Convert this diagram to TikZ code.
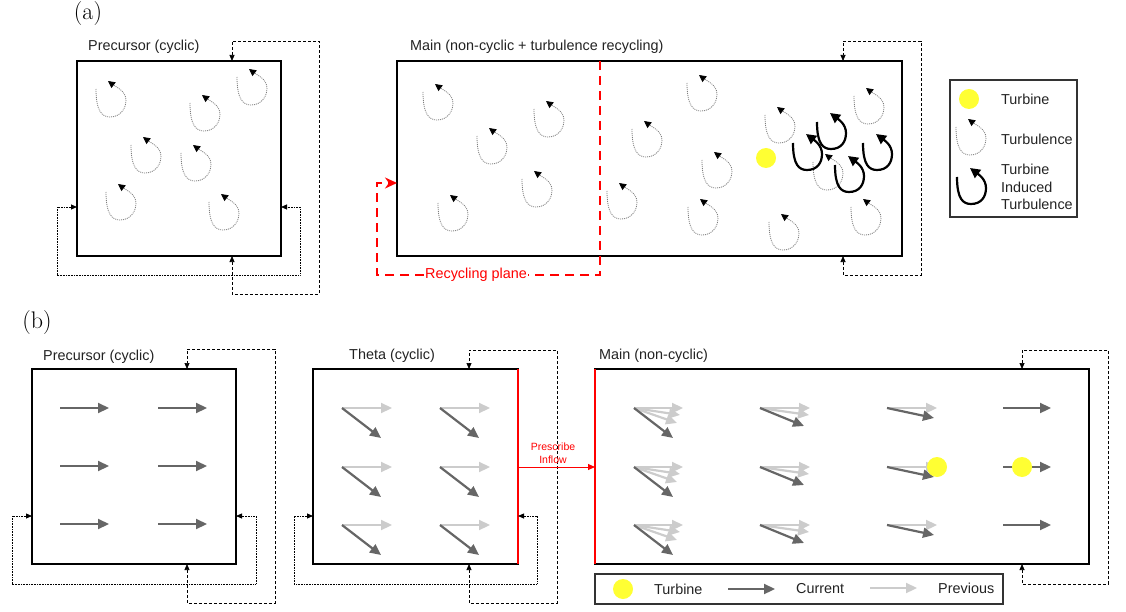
\documentclass[tikz,border=0pt]{standalone}
\usepackage{fontspec}
\newfontfamily\sansf{Liberation Sans}
\usetikzlibrary{arrows.meta,calc}
\definecolor{tyellow}{RGB}{255,255,51}
\definecolor{curc}{RGB}{102,102,102}
\definecolor{prevc}{RGB}{204,204,204}
\definecolor{swirlc}{RGB}{125,125,125}
\definecolor{titlec}{RGB}{34,34,34}
\tikzset{
 box/.style={draw=black, line width=1.1pt, inner sep=0pt, outer sep=0pt},
 lbl/.style={font=\fontsize{14.4}{17.5}\selectfont\sansf, text=titlec, inner sep=0pt, anchor=west},
 dloop/.style={line width=0.7pt, dash pattern=on 3pt off 2pt, {Triangle[length=6pt,width=5pt]}-{Triangle[length=6pt,width=5pt]}},
 ploop/.style={line width=0.8pt, dash pattern=on 0.8pt off 0.8pt, {Triangle[length=6pt,width=5pt]}-{Triangle[length=6pt,width=5pt]}},
 cur/.style={draw=curc, line width=2.2pt, -{Triangle[length=11pt,width=10pt]}},
 prev/.style={draw=prevc, line width=2.2pt, -{Triangle[length=11pt,width=10pt]}},
 turbine/.style={circle, fill=tyellow, minimum size=20pt, inner sep=0pt, draw=none},
 swirl/.pic={\draw[swirlc, line width=0.8pt, dash pattern=on 1pt off 1pt, -{Triangle[length=7pt,width=7pt,color=black]}] (0,0) .. controls (0,22) and (6,28) .. (14,28) .. controls (24,28) and (30,20) .. (30,11) .. controls (30,2) and (20,-2) .. (12,-8);},
 bswirl/.pic={\draw[black, line width=2.2pt, -{Triangle[length=10pt,width=10pt]}] (0,0) .. controls (0,22) and (6,27) .. (14,27) .. controls (24,27) and (29,20) .. (29,11) .. controls (29,2) and (21,-3) .. (13,-9);},
}
\begin{document}
\begin{tikzpicture}[x=1pt,y=-1pt]
\useasboundingbox (0,0) rectangle (1126,612);
% ---------------- (a) ----------------
\node[font=\fontsize{24}{28}\selectfont, inner sep=0pt] (laba) at (88,14) {(a)};
\node[box, minimum width=204pt, minimum height=195pt] (pa) at (179,158.5) {};
\node[lbl] (tpa) at (88,47) {Precursor (cyclic)};
\draw[dloop] (232,0 |- pa.south) -- (232,294) -- (319,294) -- (319,41) -- (232,41) -- (232,0 |- pa.north);
\draw[ploop] (pa.west |- 0,207) -- (57,207) -- (57,275) -- (300,275) -- (300,207) -- (pa.east |- 0,207);
\foreach \p in {(96,89),(190,103),(237,77),(131,145),(181,153),(106,192),(209,202)}
  \pic at \p {swirl};

\node[box, minimum width=505pt, minimum height=195pt] (ma) at (649.5,158.5) {};
\node[lbl] (tma) at (410,47) {Main (non-cyclic + turbulence recycling)};
\draw[dloop] (843,0 |- ma.south) -- (843,275) -- (921,275) -- (921,41) -- (843,41) -- (843,0 |- ma.north);
\foreach \p in {(423,92),(534,109),(477,136),(522,179),(438,203),(632,129),(607,191),(687,83),(765,115),(854,96),(702,160),(813,162),(688,207),(769,222),(851,207)}
  \pic at \p {swirl};
\node[turbine] (ta) at (766,158) {};
\foreach \p in {(793,143),(817,122),(835,165),(863,143)}
  \pic at \p {bswirl};
\draw[red, line width=2.5pt, dash pattern=on 9pt off 6pt, -{Stealth[length=12pt,width=11pt]}] (600,0 |- ma.north) -- (600,275) -- (377,275) -- (377,183) -- (ma.west |- 0,183);
\node[font=\fontsize{14.4}{17.5}\selectfont\sansf, text=red, fill=white, inner sep=1pt] (rp) at (476,275) {Recycling plane};

\node[box, draw=black!80, minimum width=127pt, minimum height=137pt] (lga) at (1013.5,148.5) {};
\node[turbine] (lgt) at (969,99) {};
\node[lbl] (lgt1) at (1001,99) {Turbine};
\pic at (956,127) {swirl};
\node[lbl] (lgt2) at (1001,139) {Turbulence};
\pic at (957,177) {bswirl};
\node[lbl, align=left] (lgt3) at (1001,187) {Turbine\\Induced\\Turbulence};

% ---------------- (b) ----------------
\node[font=\fontsize{24}{28}\selectfont, inner sep=0pt] (labb) at (37,323) {(b)};
% precursor
\node[box, minimum width=204pt, minimum height=195pt] (pb) at (134,466.5) {};
\node[lbl] (tpb) at (43,357) {Precursor (cyclic)};
\draw[dloop] (187,0 |- pb.south) -- (187,603) -- (275,603) -- (275,349) -- (187,349) -- (187,0 |- pb.north);
\draw[ploop] (pb.west |- 0,516) -- (12,516) -- (12,584) -- (256,584) -- (256,516) -- (pb.east |- 0,516);
\foreach \y in {408,466,524} \foreach \x in {60,158} \draw[cur] (\x,\y) -- ++(49,0);
% theta
\node[box, minimum width=205pt, minimum height=195pt] (tb) at (415.5,466.5) {};
\draw[red, line width=2pt] (tb.north east) -- (tb.south east);
\node[lbl] (ttb) at (349,356) {Theta (cyclic)};
\draw[dloop] (469,0 |- tb.south) -- (469,603) -- (557,603) -- (557,350) -- (469,350) -- (469,0 |- tb.north);
\draw[ploop] (tb.west |- 0,516) -- (294,516) -- (294,584) -- (537,584) -- (537,516) -- (tb.east |- 0,516);
\foreach \y in {408,467,525} \foreach \x in {342,440} {
  \draw[prev] (\x,\y) -- ++(50,0);
  \draw[cur] (\x,\y) -- ++(39,30);
}
% main
\node[box, minimum width=494pt, minimum height=195pt] (mb) at (842,466.5) {};
\draw[red, line width=2pt] (mb.north west) -- (mb.south west);
\node[lbl] (tmb) at (599,356) {Main (non-cyclic)};
\draw[dloop] (1022,0 |- mb.south) -- (1022,584) -- (1108,584) -- (1108,350) -- (1022,350) -- (1022,0 |- mb.north);
\foreach \y in {408,467,525} {
  \draw[prev] (634,\y) -- ++(49,0);
  \draw[prev] (634,\y) -- ++(46,7);
  \draw[prev] (634,\y) -- ++(43,15);
  \draw[cur] (634,\y) -- ++(39,30);
  \draw[prev] (760,\y) -- ++(50,0);
  \draw[prev] (760,\y) -- ++(49,7);
  \draw[cur] (760,\y) -- ++(44,18);
  \draw[prev] (887,\y) -- ++(50,0);
  \draw[cur] (887,\y) -- ++(47,10);
  \draw[cur] (1003,\y) -- ++(48,0);
}
\node[turbine] (tb1) at (937,467) {};
\node[turbine] (tb2) at (1022,467) {};
% prescribe inflow
\draw[red, line width=1pt, -{Triangle[length=7pt,width=6pt]}] (tb.east |- 0,467) -- (mb.west |- 0,467);
\node[font=\fontsize{10.5}{13}\selectfont\sansf, text=red, align=center, inner sep=0pt] (pi) at (553,453.5) {Prescribe\\Inflow};
% legend b
\node[box, draw=black!80, minimum width=408pt, minimum height=30pt] (lgb) at (799,589) {};
\node[turbine] (lbt) at (623,589) {};
\node[lbl] (lbt1) at (654,589) {Turbine};
\coordinate (lc1) at (728,589);
\coordinate (lc2) at (775,589);
\draw[cur] (lc1) -- (lc2);
\node[lbl] (lbt2) at (796,589) {Current};
\coordinate (lp1) at (870,588);
\coordinate (lp2) at (917,588);
\draw[prev] (lp1) -- (lp2);
\node[lbl] (lbt3) at (938,588) {Previous};
\end{tikzpicture}
\end{document}
